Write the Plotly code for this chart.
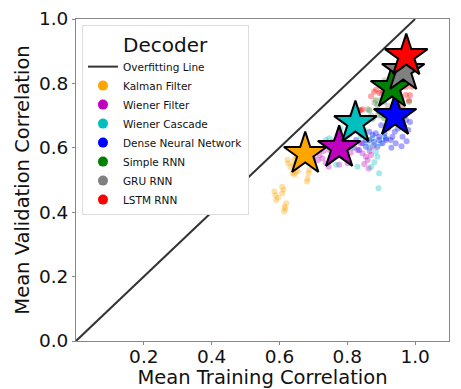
import plotly.graph_objects as go

decoders = ["Kalman Filter", "Wiener Filter", "Wiener Cascade", "Dense Neural Network",
            "Simple RNN", "GRU RNN", "LSTM RNN"]
colors = ["#FFA500", "#BF00BF", "#00BFBF", "#0000FF", "#008000", "#808080", "#FF0000"]

overfit_x = [0.0, 1.0]
overfit_y = [0.0, 1.0]

kf_x = [0.624, 0.626, 0.644, 0.642, 0.649, 0.644, 0.688, 0.686, 0.683, 0.681, 0.608, 0.585,
        0.588, 0.590, 0.608, 0.620, 0.615, 0.613, 0.617, 0.639, 0.654, 0.632, 0.660, 0.612,
        0.596, 0.650]
kf_y = [0.562, 0.552, 0.564, 0.547, 0.526, 0.516, 0.531, 0.521, 0.505, 0.495, 0.479, 0.464,
        0.453, 0.438, 0.459, 0.428, 0.417, 0.402, 0.410, 0.521, 0.529, 0.540, 0.555, 0.470,
        0.445, 0.572]

wf_x = [0.718, 0.727, 0.737, 0.745, 0.776, 0.801, 0.830, 0.845, 0.855, 0.860, 0.863, 0.870,
        0.874, 0.840, 0.747, 0.713, 0.760, 0.790, 0.810, 0.820, 0.730, 0.755, 0.850, 0.866,
        0.700, 0.795]
wf_y = [0.578, 0.567, 0.552, 0.541, 0.547, 0.552, 0.593, 0.583, 0.572, 0.562, 0.536, 0.578,
        0.603, 0.614, 0.593, 0.562, 0.620, 0.630, 0.585, 0.600, 0.590, 0.575, 0.550, 0.590,
        0.570, 0.570]

wc_x = [0.747, 0.762, 0.796, 0.830, 0.884, 0.889, 0.894, 0.892, 0.865, 0.879, 0.840, 0.767,
        0.737, 0.874, 0.899, 0.909, 0.780, 0.850, 0.880, 0.870, 0.805, 0.860, 0.815]
wc_y = [0.630, 0.603, 0.624, 0.541, 0.588, 0.572, 0.521, 0.474, 0.598, 0.609, 0.634, 0.547,
        0.624, 0.630, 0.614, 0.634, 0.660, 0.655, 0.555, 0.540, 0.640, 0.615, 0.600]

dnn_x = [0.845, 0.865, 0.879, 0.894, 0.904, 0.914, 0.928, 0.889, 0.855, 0.835, 0.826, 0.865,
         0.884, 0.894, 0.933, 0.943, 0.963, 0.968, 0.973, 0.958, 0.914, 0.855, 0.975, 0.980,
         0.970, 0.950, 0.920, 0.900, 0.875, 0.910, 0.940, 0.960, 0.985, 0.845, 0.930]
dnn_y = [0.614, 0.624, 0.619, 0.634, 0.614, 0.630, 0.624, 0.603, 0.603, 0.593, 0.624, 0.650,
         0.645, 0.624, 0.634, 0.614, 0.634, 0.666, 0.686, 0.676, 0.624, 0.624, 0.620, 0.655,
         0.700, 0.660, 0.660, 0.670, 0.640, 0.645, 0.650, 0.605, 0.680, 0.640, 0.600]

rnn_x = [0.909, 0.894, 0.909, 0.865, 0.982, 0.889, 0.904, 0.884, 0.900, 0.920, 0.875, 0.950]
rnn_y = [0.743, 0.712, 0.692, 0.717, 0.743, 0.733, 0.748, 0.748, 0.700, 0.760, 0.690, 0.735]

gru_x = [0.910, 0.920, 0.940, 0.960, 0.900, 0.880, 0.890, 0.860, 0.930, 0.950, 0.970, 0.900,
         0.920, 0.870]
gru_y = [0.810, 0.790, 0.800, 0.810, 0.770, 0.740, 0.700, 0.720, 0.760, 0.830, 0.820, 0.750,
         0.730, 0.700]

lstm_x = [0.879, 0.894, 0.791, 0.811, 0.840, 0.982, 0.973, 0.985, 0.963, 0.973, 0.976, 0.835,
          0.845, 0.885, 0.958, 0.960, 0.930, 0.870, 0.990, 0.905, 0.825]
lstm_y = [0.774, 0.770, 0.692, 0.697, 0.717, 0.748, 0.764, 0.764, 0.728, 0.789, 0.811, 0.717,
          0.720, 0.780, 0.717, 0.750, 0.780, 0.760, 0.790, 0.775, 0.700]

mean_x = [0.676, 0.776, 0.824, 0.941, 0.932, 0.965, 0.974]
mean_y = [0.581, 0.600, 0.677, 0.699, 0.786, 0.839, 0.885]

xtick_vals = [0.2, 0.4, 0.6, 0.8, 1.0]
ytick_vals = [0.0, 0.2, 0.4, 0.6, 0.8, 1.0]

points = [(kf_x, kf_y), (wf_x, wf_y), (wc_x, wc_y), (dnn_x, dnn_y),
          (rnn_x, rnn_y), (gru_x, gru_y), (lstm_x, lstm_y)]

FONT = "DejaVu Sans"
fig = go.Figure()

fig.add_trace(go.Scatter(x=overfit_x, y=overfit_y, mode="lines",
                         line=dict(color="#333333", width=2),
                         name="Overfitting Line", showlegend=True))

for (px, py), c in zip(points, colors):
    fig.add_trace(go.Scatter(x=px, y=py, mode="markers",
                             marker=dict(color=c, size=6, opacity=0.35, line=dict(width=0)),
                             showlegend=False, hoverinfo="skip"))

for i, (name, c) in enumerate(zip(decoders, colors)):
    fig.add_trace(go.Scatter(x=[mean_x[i]], y=[mean_y[i]], mode="markers",
                             marker=dict(symbol="star", size=32, color=c,
                                         line=dict(color="black", width=2)),
                             showlegend=False))

for name, c in zip(decoders, colors):
    fig.add_trace(go.Scatter(x=[None], y=[None], mode="markers", name=name,
                             marker=dict(color=c, size=10)))

# Page body has an 8px default margin, so the figure is 8px smaller than the window.
fig.update_layout(
    width=453, height=381,
    margin=dict(l=68, r=12, t=11, b=48, autoexpand=False),
    paper_bgcolor="white", plot_bgcolor="white",
    font=dict(family=FONT, color="#111111"),
    legend=dict(
        x=0.016, y=0.981, xanchor="left", yanchor="top",
        bgcolor="white", bordercolor="#dddddd", borderwidth=1,
        font=dict(size=10.5, family=FONT),
        title=dict(text="Decoder", font=dict(size=20, family=FONT), side="top center"),
        itemwidth=30, tracegroupgap=0,
    ),
    xaxis=dict(range=[0, 1.1], tickvals=xtick_vals, ticktext=["0.2", "0.4", "0.6", "0.8", "1.0"],
               showgrid=False, zeroline=False, showline=True, mirror=True, automargin=True,
               linecolor="#888888", linewidth=1, ticks="outside", ticklen=3, tickcolor="#888888",
               tickfont=dict(size=18.5, family=FONT), ticklabeloverflow="allow",
               ticklabelstandoff=-4,
               title=dict(text="Mean Training Correlation", font=dict(size=19.5, family=FONT), standoff=3)),
    yaxis=dict(range=[0, 1.0], tickvals=ytick_vals, ticktext=["0.0", "0.2", "0.4", "0.6", "0.8", "1.0"],
               showgrid=False, zeroline=False, showline=True, mirror=True, automargin=True,
               linecolor="#888888", linewidth=1, ticks="outside", ticklen=3, tickcolor="#888888",
               tickfont=dict(size=18.5, family=FONT), ticklabeloverflow="allow",
               title=dict(text="Mean Validation Correlation", font=dict(size=19.5, family=FONT), standoff=4)),
)

fig.write_html("out.html")
